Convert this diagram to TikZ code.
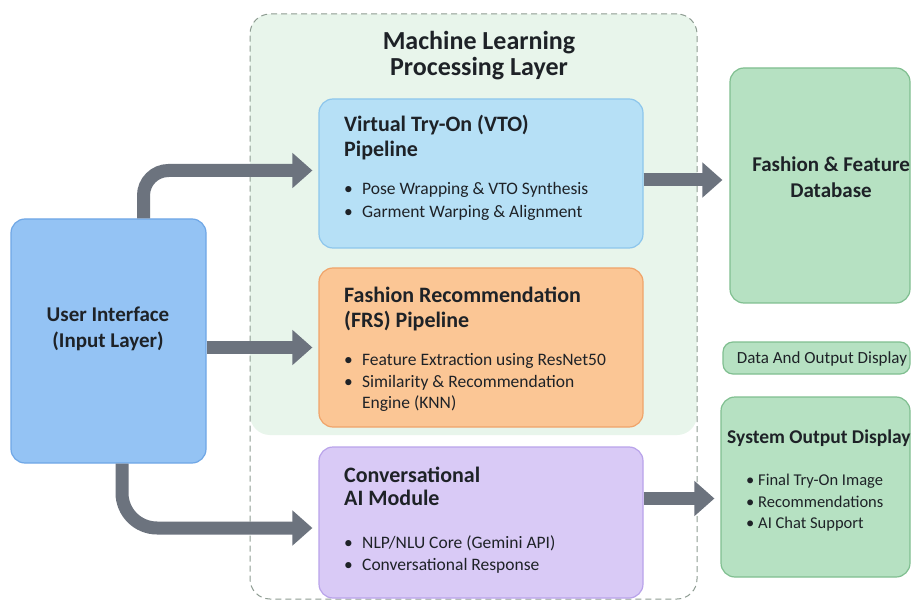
\documentclass[tikz,border=0pt]{standalone}
\usepackage{fontspec}
\setmainfont{Carlito}
\usetikzlibrary{arrows.meta,calc}

\definecolor{inkc}{HTML}{1E2227}
\definecolor{arrowc}{HTML}{6C737E}
\definecolor{uifill}{HTML}{94C3F4}
\definecolor{uiline}{HTML}{6FA7E6}
\definecolor{vtofill}{HTML}{B6E0F6}
\definecolor{vtoline}{HTML}{8DC6EC}
\definecolor{frsfill}{HTML}{FBC695}
\definecolor{frsline}{HTML}{F0A46A}
\definecolor{convfill}{HTML}{D9CAF6}
\definecolor{convline}{HTML}{B9A3EA}
\definecolor{grnfill}{HTML}{B6E1C2}
\definecolor{grnline}{HTML}{80BF90}
\definecolor{mlfill}{HTML}{E8F5EB}
\definecolor{dashc}{HTML}{8E9C92}

\begin{document}
\begin{tikzpicture}[x=1pt,y=-1pt,
  box/.style={draw, line width=1.2pt, rounded corners=14pt, inner sep=0pt},
  heading/.style={font=\fontsize{26}{26}\selectfont\bfseries, text=inkc, anchor=base, inner sep=0pt},
  title/.style={font=\fontsize{22}{22}\selectfont\bfseries, text=inkc, anchor=base west, inner sep=0pt},
  ctitle/.style={font=\fontsize{21}{21}\selectfont\bfseries, text=inkc, anchor=base, inner sep=0pt},
  item/.style={font=\fontsize{17.5}{17.5}\selectfont, text=inkc, anchor=base west, inner sep=0pt},
  flow/.style={draw=arrowc, line width=13pt, -{Triangle[width=34pt,length=20pt]}}]

\useasboundingbox (0,0) rectangle (912,601);
\fill[white] (0,0) rectangle (912,601);

% processing layer container
\fill[mlfill, rounded corners=20pt] (250,14) rectangle (697,435);
\node[draw=dashc, line width=1pt, dash pattern=on 6pt off 4pt, rounded corners=20pt,
      minimum width=447pt, minimum height=585pt, inner sep=0pt] (ml) at (473.5,306.5) {};
\node[heading] (mlt1) at (479,50) {Machine Learning};
\node[heading] (mlt2) at (479,76) {Processing Layer};

% input layer
\node[box, fill=uifill, draw=uiline, minimum width=195pt, minimum height=244pt] (ui) at (108.5,341) {};
\node[ctitle] (uit1) at (108,322) {User Interface};
\node[ctitle] (uit2) at (108,347) {(Input Layer)};

% pipelines
\node[box, fill=vtofill, draw=vtoline, minimum width=324pt, minimum height=149pt] (vto) at (481,173.5) {};
\node[title] (vtot1) at (344,132) {Virtual Try-On (VTO)};
\node[title] (vtot2) at (344,157) {Pipeline};
\node[item] (vtob1) at (344,195) {\makebox[18pt][l]{•}Pose Wrapping \& VTO Synthesis};
\node[item] (vtob2) at (344,218) {\makebox[18pt][l]{•}Garment Warping \& Alignment};

\node[box, fill=frsfill, draw=frsline, minimum width=324pt, minimum height=159pt] (frs) at (481,347.5) {};
\node[title] (frst1) at (344,302) {Fashion Recommendation};
\node[title] (frst2) at (344,327) {(FRS) Pipeline};
\node[item] (frsb1) at (344,365) {\makebox[18pt][l]{•}Feature Extraction using ResNet50};
\node[item] (frsb2) at (344,387) {\makebox[18pt][l]{•}Similarity \& Recommendation};
\node[item] (frsb3) at (362,408) {Engine (KNN)};

\node[box, fill=convfill, draw=convline, minimum width=324pt, minimum height=151pt] (conv) at (481,522.5) {};
\node[title] (convt1) at (344,482) {Conversational};
\node[title] (convt2) at (344,505) {AI Module};
\node[item] (convb1) at (344,548) {\makebox[18pt][l]{•}NLP/NLU Core (Gemini API)};
\node[item] (convb2) at (344,570) {\makebox[18pt][l]{•}Conversational Response};

% outputs
\node[box, fill=grnfill, draw=grnline, minimum width=180pt, minimum height=235pt] (db) at (820,185.5) {};
\node[ctitle] (dbt1) at (831,172) {Fashion \& Feature};
\node[ctitle] (dbt2) at (831,198) {Database};

\node[box, fill=grnfill, draw=grnline, rounded corners=10pt, minimum width=187pt, minimum height=32pt] (dod) at (816.5,358) {};
\node[font=\fontsize{17}{17}\selectfont, text=inkc, anchor=base, inner sep=0pt] (dodt) at (822,363) {Data And Output Display};

\node[box, fill=grnfill, draw=grnline, minimum width=189pt, minimum height=180pt] (sys) at (815.5,487) {};
\node[title, font=\fontsize{19.5}{19.5}\selectfont\bfseries] (syst) at (727,443) {System Output Display};
\node[item, font=\fontsize{16.5}{16.5}\selectfont] (sysb1) at (746,485) {\makebox[12pt][l]{•}Final Try-On Image};
\node[item, font=\fontsize{16.5}{16.5}\selectfont] (sysb2) at (746,507) {\makebox[12pt][l]{•}Recommendations};
\node[item, font=\fontsize{16.5}{16.5}\selectfont] (sysb3) at (746,528) {\makebox[12pt][l]{•}AI Chat Support};

% connectors
\draw[flow, rounded corners=25pt, shorten >=6pt] ([xshift=35pt]ui.north) |- ([yshift=3pt]vto.west);
\draw[flow, shorten >=6pt] (ui.east |- frs.west) -- (frs.west);
\draw[flow, rounded corners=35pt, shorten >=6pt] ([xshift=13.5pt]ui.south) |- ([yshift=-5.5pt]conv.west);
\draw[flow, shorten >=7pt] ([yshift=-6.5pt]vto.east) -- ([yshift=-6.5pt]vto.east -| db.west);
\draw[flow, shorten >=6pt] ([yshift=24pt]conv.east) -- ([yshift=24pt]conv.east -| sys.west);
\end{tikzpicture}
\end{document}
